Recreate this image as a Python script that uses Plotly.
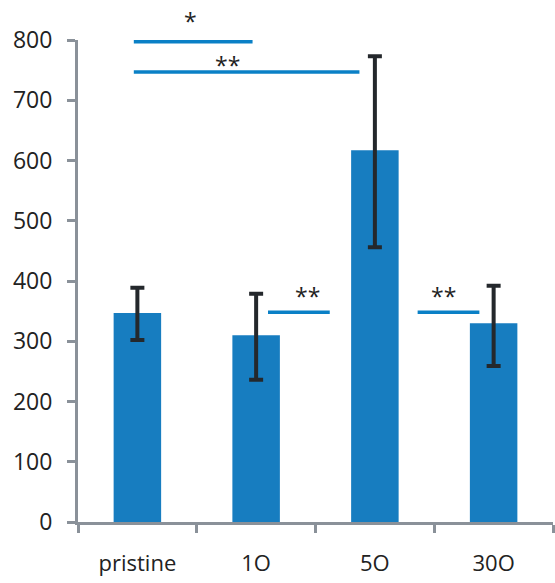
import plotly.graph_objects as go

categories = ["pristine", "1O", "5O", "30O"]
means = [347, 310, 617, 330]
err_plus = [42, 69, 156, 62]
err_minus = [45, 74, 161, 71]

# significance brackets: (x start, x end, y level, label, label x)
sig_lines = [
    (-0.03, 0.97, 797, "*", 0.45),
    (-0.03, 1.87, 747, "**", 0.76),
    (1.10, 1.62, 348, "**", 1.43),
    (2.36, 2.88, 348, "**", 2.575),
]
# vertical pixel gap between each bracket and its label
label_gaps = [20.5, 7, 16, 16]

bar_color = "#177dc0"
line_color = "#0a80c6"
axis_color = "#8a9199"
font_family = "Open Sans, Noto Sans, sans-serif"

fig = go.Figure()
fig.add_trace(go.Bar(
    x=categories, y=means, width=0.4,
    marker=dict(color=bar_color, line=dict(width=0)),
    error_y=dict(type="data", array=err_plus, arrayminus=err_minus,
                 color="#24282c", thickness=4, width=7, symmetric=False),
))

shapes = []
annotations = []
for (x0, x1, yv, lab, lx), gap in zip(sig_lines, label_gaps):
    shapes.append(dict(type="line", xref="x", yref="y", x0=x0, x1=x1, y0=yv, y1=yv,
                       line=dict(color=line_color, width=3.5)))
    annotations.append(dict(x=lx, y=yv, xref="x", yref="y", text=lab, showarrow=False,
                            yanchor="middle", xanchor="center", yshift=gap,
                            font=dict(size=23, color="#222", family=font_family)))

fig.update_layout(
    width=555, height=583,
    margin=dict(l=78, r=2, t=40, b=61),
    plot_bgcolor="white", paper_bgcolor="white",
    showlegend=False,
    shapes=shapes, annotations=annotations,
    font=dict(family=font_family, color="#222"),
    xaxis=dict(
        showline=True, linecolor=axis_color, linewidth=3,
        ticks="outside", tickson="boundaries", ticklen=8, tickwidth=3, tickcolor=axis_color,
        tickfont=dict(size=22, color="#222"), ticklabelstandoff=20,
        showgrid=False, range=[-0.5, 3.5],
    ),
    yaxis=dict(
        range=[0, 800], dtick=100, showline=True, linecolor=axis_color, linewidth=3,
        ticks="outside", ticklen=8, tickwidth=3, tickcolor=axis_color,
        tickfont=dict(size=23, color="#222"), ticklabelstandoff=10,
        showgrid=False, zeroline=False,
    ),
)

fig.write_html("out.html")
